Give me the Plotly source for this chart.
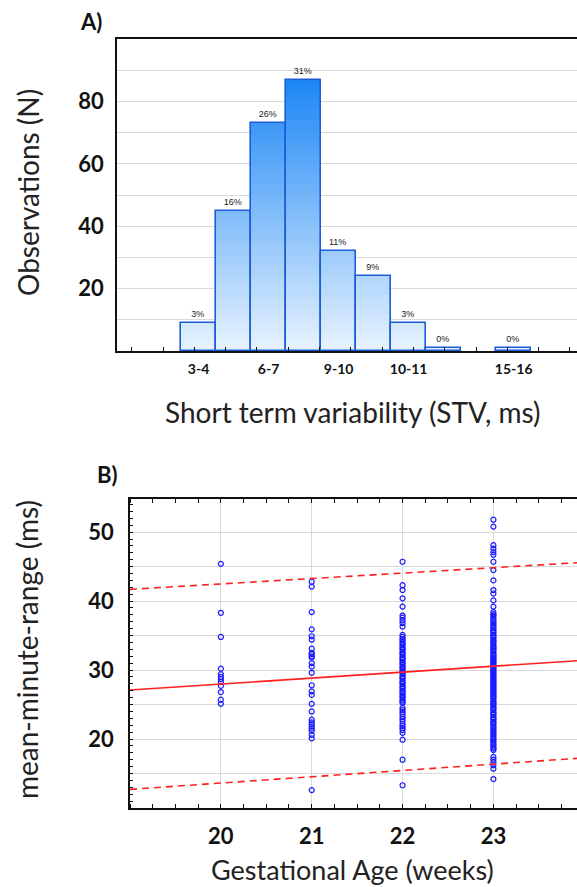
import plotly.graph_objects as go

# ---------------- Data ----------------
# Panel A: histogram of short term variability
bin_pos = [0, 1, 2, 3, 4, 5, 6, 7, 9]
bin_counts = [9, 45, 73, 87, 32, 24, 9, 1, 1]
bin_pct = ["3%", "16%", "26%", "31%", "11%", "9%", "3%", "0%", "0%"]
stv_tickvals = [0, 2, 4, 6, 9]
stv_ticktext = ["3-4", "6-7", "9-10", "10-11", "15-16"]

# Panel B: mean-minute-range by gestational age
mmr_20 = [45.4, 38.3, 34.8, 30.2, 29.4, 29.0, 28.7, 28.3, 27.7, 26.8, 25.7, 25.1]
mmr_21 = [42.8, 42.1, 38.4, 35.9, 34.9, 34.4, 33.1, 32.5, 32.3, 32.0, 31.8, 31.0,
          30.5, 29.6, 27.8, 26.9, 26.4, 25.1, 24.0, 22.8, 22.4, 22.1, 21.8, 21.5,
          21.2, 20.6, 20.1, 12.6]
mmr_22 = [45.7, 42.3, 41.6, 40.4, 39.2, 37.9, 37.6, 37.2, 36.8, 36.3, 35.1,
          34.8, 34.5, 34.3, 34.0, 33.8, 33.6, 33.3, 33.1, 32.9, 32.6, 32.4, 32.2,
          31.9, 31.7, 31.5, 31.2, 31.0, 30.8, 30.5, 30.3, 30.1, 29.8, 29.6, 29.4,
          29.1, 28.9, 28.7, 28.4, 28.2, 28.0, 27.7, 27.5, 27.3, 27.0, 26.8, 26.6,
          26.3, 26.1, 25.9, 25.6, 25.4, 25.2, 24.5, 24.2, 23.9, 23.6, 23.2, 22.9,
          22.6, 22.2, 21.9, 21.6, 21.3, 20.9, 19.9, 17.0, 13.3]
mmr_23 = [51.8, 50.8, 48.1, 47.6, 47.1, 46.7, 45.7, 44.5, 43.0, 41.6, 41.1, 40.1,
          39.2, 38.4, 38.1, 37.9, 37.6, 37.3, 37.1, 36.8, 36.6, 36.3, 36.1, 35.8,
          35.6, 35.4, 35.1, 34.9, 34.7, 34.4, 34.2, 34.0, 33.8, 33.5, 33.3, 33.1,
          32.9, 32.7, 32.4, 32.2, 32.0, 31.8, 31.6, 31.4, 31.2, 31.0, 30.8, 30.6,
          30.4, 30.2, 30.0, 29.8, 29.6, 29.4, 29.2, 29.0, 28.8, 28.6, 28.4, 28.2,
          28.0, 27.8, 27.6, 27.4, 27.2, 27.0, 26.8, 26.6, 26.4, 26.2, 26.0, 25.8,
          25.5, 25.3, 25.1, 24.9, 24.6, 24.4, 24.2, 23.9, 23.7, 23.5, 23.2, 23.0,
          22.8, 22.5, 22.3, 22.1, 21.8, 21.6, 21.3, 21.1, 20.8, 20.6, 20.3, 20.1,
          19.8, 19.6, 19.3, 19.1, 18.8, 18.6, 18.4, 17.4, 17.0, 16.6, 16.2, 15.7,
          14.2]
ga_weeks = [20, 21, 22, 23]
fit_x = [19.0, 23.92]
fit_mid = [27.1, 31.35]
fit_upper = [41.7, 45.56]
fit_lower = [12.7, 17.2]

# ---------------- Figure ----------------
W, H = 577, 887
fig = go.Figure()

# gradient-filled bars built from stacked bands
top_c = (28, 134, 245)
bot_c = (232, 243, 254)
step = 2.0
vmax = 90.0
nb = int(vmax / step)
for k in range(nb):
    lo = k * step
    f = min(1.0, (lo + step / 2) / 87.0)
    col = tuple(int(round(bot_c[i] + (top_c[i] - bot_c[i]) * f)) for i in range(3))
    heights = [max(0.0, min(step, v - lo)) for v in bin_counts]
    fig.add_trace(go.Bar(
        x=bin_pos, y=heights, base=[lo] * len(bin_pos), width=1.0,
        marker=dict(color="rgb(%d,%d,%d)" % col, line=dict(width=0)),
        xaxis="x", yaxis="y", showlegend=False, hoverinfo="skip"))

fig.add_trace(go.Bar(
    x=bin_pos, y=bin_counts, width=1.0,
    marker=dict(color="rgba(0,0,0,0)", line=dict(color="#1d5cd8", width=1.6)),
    text=bin_pct, textposition="outside", cliponaxis=False,
    textfont=dict(family="Arial", size=9, color="#222"),
    xaxis="x", yaxis="y", showlegend=False))

# scatter points
for wk, vals in zip(ga_weeks, [mmr_20, mmr_21, mmr_22, mmr_23]):
    fig.add_trace(go.Scatter(
        x=[wk] * len(vals), y=vals, mode="markers",
        marker=dict(symbol="circle-open", size=5, color="#1a1aff",
                    line=dict(width=1.2, color="#1a1aff")),
        xaxis="x2", yaxis="y2", showlegend=False))

fig.add_trace(go.Scatter(x=fit_x, y=fit_mid, mode="lines",
                         line=dict(color="#ff2020", width=1.6),
                         xaxis="x2", yaxis="y2", showlegend=False))
for yy in (fit_upper, fit_lower):
    fig.add_trace(go.Scatter(x=fit_x, y=yy, mode="lines",
                             line=dict(color="#ff2020", width=1.6, dash="7px,5px"),
                             xaxis="x2", yaxis="y2", showlegend=False))

tick_font_big = dict(family="Lato", size=22, color="#111", weight="bold")
grid_c = "#d9d9d9"

fig.update_layout(
    width=W, height=H, margin=dict(l=0, r=0, t=0, b=0),
    paper_bgcolor="white", plot_bgcolor="white", barmode="overlay",
    bargap=0,
    xaxis=dict(domain=[117 / W, 1.0], anchor="y", range=[-2.33, 10.81],
               tickvals=stv_tickvals, ticktext=stv_ticktext, ticks="", showgrid=False,
               tickfont=dict(family="Lato", size=14, color="#111", weight="bold"),
               showline=True, linecolor="#111", linewidth=1.5, mirror=True,
               ticklabelstandoff=4, zeroline=False,
               minor=dict(ticks="inside", ticklen=4, tickcolor="#111",
                          tick0=-1.014, dtick=0.894, showgrid=False)),
    yaxis=dict(domain=[1 - 351 / H, 1 - 39 / H], anchor="x", range=[0, 100],
               tickvals=[10, 20, 30, 40, 50, 60, 70, 80, 90],
               ticktext=["", "20", "", "40", "", "60", "", "80", ""],
               ticks="", showgrid=True, gridcolor=grid_c, gridwidth=1,
               tickfont=tick_font_big,
               showline=True, linecolor="#111", linewidth=1.5, mirror=False,
               ticklabelstandoff=7, zeroline=False),
    xaxis2=dict(domain=[130 / W, 1.0], anchor="y2", range=[19.0, 23.92],
                tickvals=ga_weeks, ticks="", showgrid=True, gridcolor=grid_c,
                tickfont=dict(family="Lato", size=22, color="#111", weight="bold"),
                showline=True, linecolor="#111", linewidth=1.5, mirror="ticks",
                ticklabelstandoff=8, zeroline=False,
                minor=dict(ticks="inside", ticklen=4, tickcolor="#111",
                           tick0=19.0, dtick=0.25, showgrid=False)),
    yaxis2=dict(domain=[1 - 808 / H, 1 - 499 / H], anchor="x2", range=[10, 54.8],
                tickvals=[15, 20, 25, 30, 35, 40, 45, 50],
                ticktext=["", "20", "", "30", "", "40", "", "50"],
                ticks="", showgrid=True, gridcolor=grid_c,
                tickfont=tick_font_big,
                showline=True, linecolor="#111", linewidth=1.5, mirror=False,
                ticklabelstandoff=10, zeroline=False,
                minor=dict(ticks="inside", ticklen=3, tickcolor="#111",
                           tick0=10, dtick=1, showgrid=False)),
)

ann_font = dict(family="Lato", size=28, color="#222")


def ann(text, px, py, angle=0, font=ann_font):
    fig.add_annotation(text=text, x=px / W, y=1 - py / H, xref="paper", yref="paper",
                       xanchor="center", yanchor="middle", showarrow=False,
                       textangle=angle, font=font)


bold_lbl = dict(family="Lato", size=22, color="#111", weight="bold")
ann("A)", 91, 22, font=bold_lbl)
ann("B)", 107, 474, font=bold_lbl)
ann("Observations (N)", 28, 193, angle=-90)
ann("Short term variability (STV, ms)", 352, 412)
ann("mean-minute-range (ms)", 27, 650, angle=-90)
ann("Gestational Age (weeks)", 352, 869, font=dict(family="Lato", size=27, color="#222"))

fig.write_html("out.html",
               config={"displayModeBar": False},
               post_script="document.body.style.margin='0';"
                           "document.body.style.overflow='hidden';")
